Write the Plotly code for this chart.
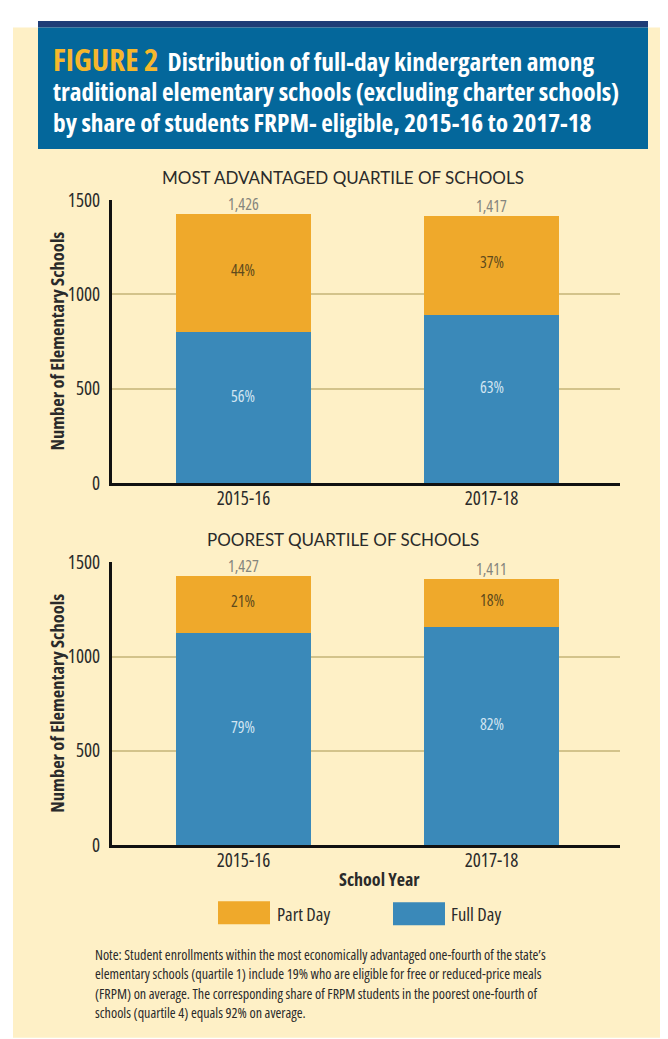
import plotly.graph_objects as go

# ---------------- data ----------------
years = ["2015-16", "2017-18"]
adv_full = [799, 893]       # most advantaged quartile, full-day schools
adv_part = [627, 524]       # most advantaged quartile, part-day schools
poor_full = [1127, 1157]    # poorest quartile, full-day schools
poor_part = [300, 254]      # poorest quartile, part-day schools
y_ticks = [0, 500, 1000, 1500]

panel_titles = ["MOST ADVANTAGED QUARTILE OF SCHOOLS", "POOREST QUARTILE OF SCHOOLS"]
title_lines = [
    "Distribution of full-day kindergarten among",
    "traditional elementary schools (excluding charter schools)",
    "by share of students FRPM- eligible, 2015-16 to 2017-18",
]
note_lines = [
    "Note: Student enrollments within the most economically advantaged one-fourth of the state\u2019s",
    "elementary schools (quartile 1) include 19% who are eligible for free or reduced-price meals",
    "(FRPM) on average. The corresponding share of FRPM students in the poorest one-fourth of",
    "schools (quartile 4) equals 92% on average.",
]

# ---------------- style ----------------
W, H = 668, 1039
OFFX = 8
AY, BY = 23.4, 0.972   # observed page mapping: page_y = AY + BY * fig_y
ORANGE = "#EFA92B"
BLUE = "#3A89B9"
CREAM = "#FEF0C6"
NAVY = "#1F3D77"
TITLEBLUE = "#04679B"
GOLD = "#F6B72C"
GRID = "#D3C38B"
TXT = "#2A2A2A"
COND = "Open Sans, Roboto, sans-serif"
GEO = "Lato, Noto Sans, sans-serif"


def c(s, st="condensed"):
    return f"<span style='font-stretch:{st}'>{s}</span>"


def px_x(p):
    return (p - OFFX) / W


def px_y(p):
    f = (p - AY) / BY
    return 1 - f / H


fig = go.Figure()

panels = [
    (adv_full, adv_part, "x", "y", (202, 484)),
    (poor_full, poor_part, "x2", "y2", (563, 845)),
]

annotations = []
for i, (full, part, xa, ya, (top, bot)) in enumerate(panels):
    fig.add_trace(go.Bar(x=years, y=full, marker_color=BLUE, marker_line_width=0, xaxis=xa, yaxis=ya,
                         name="Full Day", showlegend=False, hoverinfo="skip"))
    fig.add_trace(go.Bar(x=years, y=part, marker_color=ORANGE, marker_line_width=0, xaxis=xa, yaxis=ya,
                         name="Part Day", showlegend=False, hoverinfo="skip"))
    for j, yr in enumerate(years):
        tot = full[j] + part[j]
        annotations.append(dict(x=yr, y=tot, xref=xa, yref=ya, text=c(f"{tot:,}"),
                                showarrow=False, yanchor="bottom", yshift=-3,
                                font=dict(family=COND, size=16, color="#85857D")))
        annotations.append(dict(x=yr, y=full[j] / 2, xref=xa, yref=ya,
                                text=c(f"{round(100 * full[j] / tot)}%"), showarrow=False,
                                yshift=12, font=dict(family=COND, size=16, color="#D2E5F2")))
        annotations.append(dict(x=yr, y=full[j] + part[j] / 2, xref=xa, yref=ya,
                                text=c(f"{round(100 * part[j] / tot)}%"), showarrow=False,
                                yshift=3, font=dict(family=COND, size=16, color="#5E4A1C")))
    annotations.append(dict(x=px_x(343), y=px_y(top - 23), xref="paper", yref="paper",
                            text=panel_titles[i], showarrow=False, xanchor="center",
                            yanchor="middle", font=dict(family=GEO, size=17, color=TXT)))
    annotations.append(dict(x=px_x(57), y=px_y((top + bot) / 2), xref="paper", yref="paper",
                            text=c("<b>Number of Elementary Schools</b>"), showarrow=False,
                            textangle=-90, xanchor="center", yanchor="middle",
                            font=dict(family=COND, size=18.5, color=TXT)))

xcommon = dict(showline=True, linecolor="#111111", linewidth=3, ticks="",
               tickvals=years, ticktext=[c(y) for y in years], ticklabelstandoff=-4,
               range=[-0.53, 1.518], tickfont=dict(family=COND, size=19, color=TXT))
ycommon = dict(showline=True, linecolor="#111111", linewidth=3, ticks="",
               range=[0, 1500], tickvals=y_ticks, ticktext=[c(str(v)) for v in y_ticks],
               ticklabelstandoff=5, showgrid=True, gridcolor=GRID, gridwidth=1.5, zeroline=False,
               tickfont=dict(family=COND, size=19, color=TXT))

fig.update_layout(
    xaxis=dict(domain=[px_x(112), px_x(620)], anchor="y", **xcommon),
    yaxis=dict(domain=[px_y(484), px_y(202)], anchor="x", **ycommon),
    xaxis2=dict(domain=[px_x(112), px_x(620)], anchor="y2", **xcommon),
    yaxis2=dict(domain=[px_y(845), px_y(563)], anchor="x2", **ycommon),
    barmode="stack",
    bargap=0.456,
    width=W, height=H,
    margin=dict(l=0, r=0, t=0, b=0),
    paper_bgcolor="white",
    plot_bgcolor="rgba(0,0,0,0)",
    showlegend=False,
)

shapes = [
    dict(type="rect", xref="paper", yref="paper", x0=px_x(13), x1=1, y0=min(px_y(1037), 0), y1=px_y(30),
         fillcolor=CREAM, line_width=0, layer="below"),
    dict(type="rect", xref="paper", yref="paper", x0=px_x(38), x1=px_x(648), y0=px_y(30), y1=1,
         fillcolor=NAVY, line_width=0, layer="below"),
    dict(type="rect", xref="paper", yref="paper", x0=px_x(38), x1=px_x(648), y0=px_y(151), y1=px_y(30),
         fillcolor=TITLEBLUE, line_width=0, layer="below"),
    dict(type="rect", xref="paper", yref="paper", x0=px_x(218), x1=px_x(270), y0=px_y(924), y1=px_y(901),
         fillcolor=ORANGE, line_width=0),
    dict(type="rect", xref="paper", yref="paper", x0=px_x(393), x1=px_x(445), y0=px_y(925), y1=px_y(902),
         fillcolor=BLUE, line_width=0),
]

title_y = [61, 93, 124]
for k, line in enumerate(title_lines):
    if k == 0:
        txt = (f"<span style='font-stretch:condensed'><b><span style='color:{GOLD};font-size:31px'>FIGURE 2</span>"
               f"  {line}</b></span>")
    else:
        txt = c(f"<b>{line}</b>")
    annotations.append(dict(x=px_x(51), y=px_y(title_y[k]), xref="paper", yref="paper", text=txt,
                            showarrow=False, xanchor="left", yanchor="middle",
                            font=dict(family=COND, size=25.3, color="white")))

annotations.append(dict(x=px_x(380), y=px_y(879), xref="paper", yref="paper",
                        text=c("<b>School Year</b>"), showarrow=False, xanchor="center", yanchor="middle",
                        font=dict(family=COND, size=18, color=TXT)))

for lx, lab in [(275, "Part Day"), (449, "Full Day")]:
    annotations.append(dict(x=px_x(lx), y=px_y(913), xref="paper", yref="paper", text=c(lab),
                            showarrow=False, xanchor="left", yanchor="middle",
                            font=dict(family=COND, size=18.5, color=TXT)))

note_y = [954, 973, 993, 1012]
for k, line in enumerate(note_lines):
    annotations.append(dict(x=px_x(93), y=px_y(note_y[k]), xref="paper", yref="paper",
                            text=c(line, "semi-condensed"),
                            showarrow=False, xanchor="left", yanchor="middle",
                            font=dict(family=COND, size=14.1, color=TXT)))

fig.update_layout(shapes=shapes, annotations=annotations)
fig.write_html("out.html")
